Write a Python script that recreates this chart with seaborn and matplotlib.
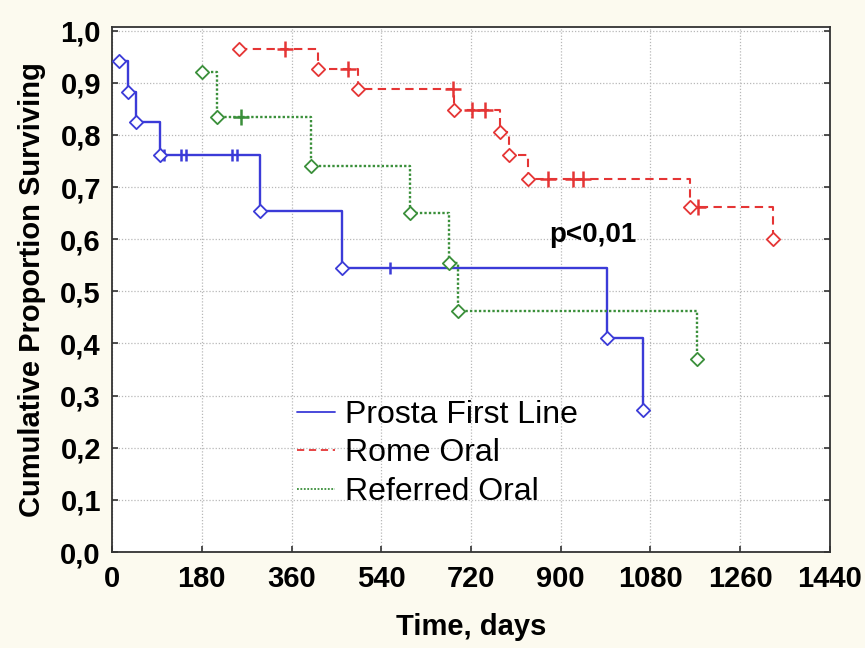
import matplotlib
matplotlib.use("Agg")
import matplotlib.pyplot as plt
import seaborn as sns
import pandas as pd

# Kaplan-Meier estimates: event times (days) and survival after each event
prosta_t = [14, 32, 48, 96, 297, 461, 993, 1065]
prosta_s = [0.941, 0.882, 0.824, 0.762, 0.654, 0.545, 0.410, 0.273]
prosta_cens = [104, 138, 148, 241, 251, 558]

rome_t = [255, 413, 493, 686, 778, 796, 834, 1159, 1326]
rome_s = [0.965, 0.927, 0.889, 0.848, 0.805, 0.761, 0.716, 0.662, 0.600]
rome_cens = [347, 473, 684, 722, 748, 875, 925, 945, 1175]

ref_t = [181, 211, 399, 598, 676, 694, 1174]
ref_s = [0.920, 0.834, 0.741, 0.650, 0.555, 0.462, 0.370]
ref_cens = [259]

x_ticks = [0, 180, 360, 540, 720, 900, 1080, 1260, 1440]
y_ticks = [0.0, 0.1, 0.2, 0.3, 0.4, 0.5, 0.6, 0.7, 0.8, 0.9, 1.0]
y_tick_labels = ["0,0", "0,1", "0,2", "0,3", "0,4", "0,5", "0,6", "0,7", "0,8", "0,9", "1,0"]

sns.set_style("ticks")
plt.rcParams["font.family"] = ["Liberation Sans", "DejaVu Sans"]
plt.rcParams["text.color"] = "black"
plt.rcParams["axes.labelcolor"] = "black"

fig = plt.figure(figsize=(8.65, 6.48), dpi=100, facecolor="#fcfaef")
ax = fig.add_axes([0.1295, 0.1481, 0.8300, 0.8102])
ax.set_facecolor("white")


def censored_levels(times, ev_t, ev_s):
    """Survival level at each censoring time (value of the step curve)."""
    out = []
    for c in times:
        level = None
        for t, s in zip(ev_t, ev_s):
            if t <= c:
                level = s
        out.append(level)
    return out


groups = [
    ("Prosta First Line", prosta_t, prosta_s, prosta_cens, "#3b3bd8", "-", 1.7, "|", 9),
    ("Rome Oral", rome_t, rome_s, rome_cens, "#e53535", (0, (4, 2.6)), 1.5, "+", 11),
    ("Referred Oral", ref_t, ref_s, ref_cens, "#3a8f3a", (0, (1, 0.9)), 1.7, "+", 11),
]

for name, t, s, cens, col, ls, lw, cmark, csize in groups:
    df = pd.DataFrame({"day": t, "surv": s})
    sns.lineplot(data=df, x="day", y="surv", ax=ax, color=col, lw=lw,
                 linestyle=ls, drawstyle="steps-post", estimator=None,
                 label=name, zorder=3)
    cdf = pd.DataFrame({"day": cens, "surv": censored_levels(cens, t, s)})
    sns.scatterplot(data=cdf, x="day", y="surv", ax=ax, marker=cmark,
                    s=csize ** 2, color=col, linewidth=1.8, zorder=4,
                    legend=False)
    sns.scatterplot(data=df, x="day", y="surv", ax=ax, marker="D", s=46,
                    color="white", edgecolor=col, linewidth=1.3, zorder=5,
                    legend=False)

ax.set_xlim(0, 1440)
ax.set_ylim(0, 1.007)
ax.set_xticks(x_ticks)
ax.set_xticklabels([str(v) for v in x_ticks])
ax.set_yticks(y_ticks)
ax.set_yticklabels(y_tick_labels)

ax.grid(True, linestyle=(0, (1, 1.5)), color="#b8b8b8", linewidth=0.9)
ax.set_axisbelow(True)

for sp in ax.spines.values():
    sp.set_visible(True)
    sp.set_color("#333333")
    sp.set_linewidth(1.3)

ax.tick_params(axis="both", direction="in", length=4, width=1.2,
               right=True, labelsize=21, colors="#333333", labelcolor="black")
ax.tick_params(axis="x", pad=9)
ax.tick_params(axis="y", pad=8)
for lab in ax.get_xticklabels() + ax.get_yticklabels():
    lab.set_fontweight("bold")

ax.set_xlabel("Time, days", fontsize=21, fontweight="bold", labelpad=15)
ax.set_ylabel("Cumulative Proportion Surviving", fontsize=21,
              fontweight="bold", labelpad=10)

ax.text(965, 0.608, "p<0,01", fontsize=20, fontweight="bold",
        ha="center", va="center")

leg = ax.legend(loc="upper left", bbox_to_anchor=(0.258, 0.29),
                frameon=False, fontsize=23, handlelength=1.19,
                handletextpad=0.31, labelspacing=0.27, borderpad=0,
                borderaxespad=0)
for line in leg.get_lines():
    line.set_linewidth(1.3)
for txt in leg.get_texts():
    txt.set_color("black")

fig.savefig("out.png", dpi=100, facecolor=fig.get_facecolor())
